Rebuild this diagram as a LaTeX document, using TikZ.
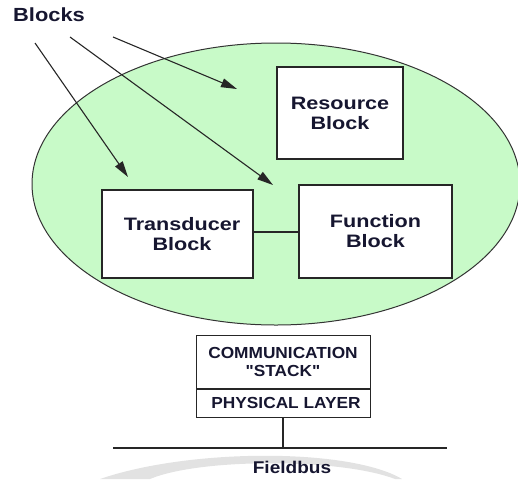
\documentclass[tikz,border=0pt]{standalone}
\usepackage{fontspec}
\setmainfont{Liberation Sans}
\newfontfamily\boxf[FakeStretch=1.2]{Liberation Sans}
\newfontfamily\commf[FakeStretch=1.08]{Liberation Sans}
\newfontfamily\blkf[FakeStretch=1.15]{Liberation Sans}
\newfontfamily\busf[FakeStretch=1.12]{Liberation Sans}
\usetikzlibrary{arrows.meta}
\definecolor{txt}{RGB}{22,22,48}
\definecolor{egreen}{RGB}{200,250,200}
\definecolor{wm}{RGB}{226,226,226}
\begin{document}
\begin{tikzpicture}[x=1pt,y=-1pt,
  blockbox/.style={draw=black!85,line width=1.1pt,fill=white,inner sep=0pt,
    text=txt,align=center,font=\boxf\bfseries\fontsize{18}{20}\selectfont},
  commbox/.style={draw=black!85,line width=1pt,fill=white,inner sep=0pt,
    text=txt,align=center,minimum width=174pt,font=\commf\bfseries\fontsize{16}{18}\selectfont},
  wire/.style={draw=black!85,line width=1.1pt},
  pointer/.style={draw=black!85,line width=1.1pt,-{Triangle[length=16pt,width=9pt]}}]
\useasboundingbox (0,0) rectangle (518,479);
% watermark swoosh
\fill[wm] (100,479) .. controls (190,448) and (350,448) .. (402,479)
  -- (395,479) .. controls (340,458) and (200,458) .. (150,479) -- cycle;
% ellipse
\draw[fill=egreen,draw=black!80,line width=1pt] (276,184) ellipse [x radius=244, y radius=141];
% blocks
\node[blockbox,minimum width=126pt,minimum height=92pt] (R) at (340,113) {Resource\\Block};
\node[blockbox,minimum width=151pt,minimum height=88pt] (T) at (177.5,234) {\hspace*{9pt}Transducer\\\hspace*{9pt}Block};
\node[blockbox,minimum width=153pt,minimum height=93pt] (F) at (375.5,231.5) {Function\\Block};
\draw[wire] (T.east |- 0,232) -- (F.west |- 0,232);
% label and pointers
\node[text=txt,font=\blkf\bfseries\fontsize{19}{21}\selectfont] (B) at (49,15) {Blocks};
\coordinate (a1s) at (35,43);  \coordinate (a1e) at (128,177);
\coordinate (a2s) at (70,37);  \coordinate (a2e) at (273,185);
\coordinate (a3s) at (113,37); \coordinate (a3e) at (237,89);
\draw[pointer] (a1s) -- (a1e);
\draw[pointer] (a2s) -- (a2e);
\draw[pointer] (a3s) -- (a3e);
% communication stack
\node[commbox,minimum height=53pt] (C) at (283,361.5) {COMMUNICATION\\"STACK"};
\node[commbox,minimum height=28pt,anchor=north] (P) at (C.south) {\hspace*{6pt}PHYSICAL LAYER};
\coordinate (busL) at (113,448);
\coordinate (busR) at (447,448);
\draw[wire] (P.south) -- (P.south |- busL);
\draw[wire] (busL) -- (busR);
\node[text=txt,font=\busf\bfseries\fontsize{17}{19}\selectfont] (FB) at (292,467) {Fieldbus};
\end{tikzpicture}
\end{document}
